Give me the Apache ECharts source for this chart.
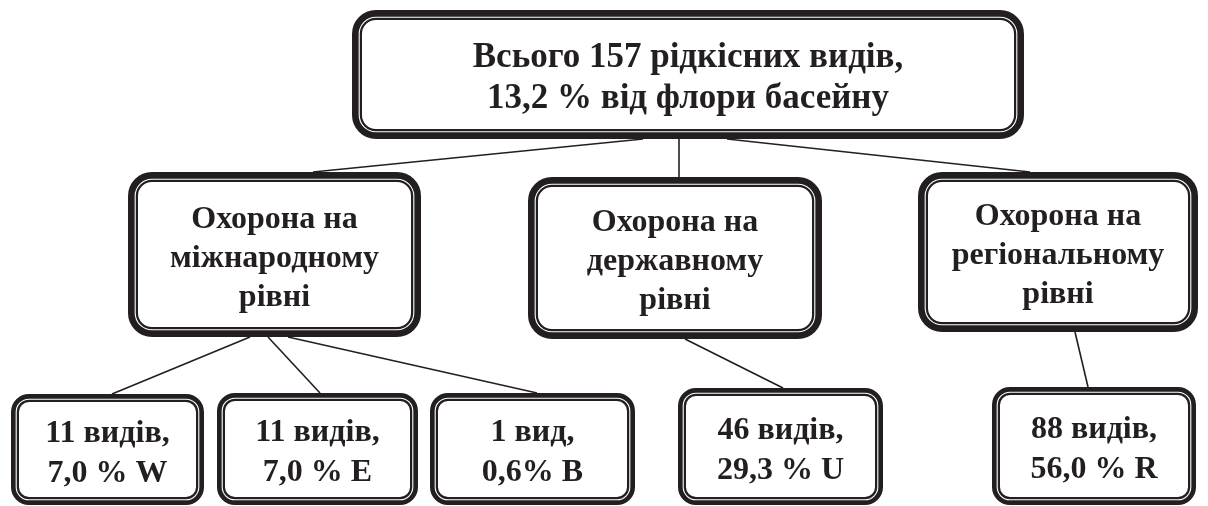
<!DOCTYPE html>
<html>
<head>
<meta charset="utf-8">
<script src="https://cdn.jsdelivr.net/npm/echarts@6/dist/echarts.min.js"></script>
<style>
html,body{margin:0;padding:0;background:#fff;}
#chart{width:1208px;height:506px;}
</style>
</head>
<body>
<div id="chart"></div>
<script>
// Node labels (tree diagram)
const nodeLabels = [
  'Всього 157 рідкісних видів,\n13,2 % від флори басейну',
  'Охорона на\nміжнародному\nрівні',
  'Охорона на\nдержавному\nрівні',
  'Охорона на\nрегіональному\nрівні',
  '11 видів,\n7,0 % W',
  '11 видів,\n7,0 % E',
  '1 вид,\n0,6% B',
  '46 видів,\n29,3 % U',
  '88 видів,\n56,0 % R'
];
// Tree level of each node
const nodeLevels = [0, 1, 1, 1, 2, 2, 2, 2, 2];
// Node box extents in diagram units [x0, y0, x1, y1]
const nodeBoxes = [
  [352, 10, 1024, 139],
  [128, 172, 421, 337],
  [528, 177, 822, 339],
  [918, 172, 1198, 332],
  [11, 394, 204, 505],
  [217, 393, 418, 505],
  [430, 393, 635, 505],
  [678, 388, 883, 505],
  [992, 387, 1196, 505]
];
// Edges: [parent, child, anchor x on parent bottom, anchor x on child top]
const edgeLinks = [
  [0, 1, 643, 313],
  [0, 2, 679, 679],
  [0, 3, 727, 1030],
  [1, 4, 250, 112],
  [1, 5, 268, 320],
  [1, 6, 288, 537],
  [2, 7, 685, 783],
  [3, 8, 1075, 1088]
];

const INK = '#231f20';
const chart = echarts.init(document.getElementById('chart'), null, {renderer: 'canvas'});

const boxData = nodeBoxes.map((b, i) => ({value: [b[0], b[1], b[2], b[3], nodeLevels[i]], label: nodeLabels[i]}));
const edgeData = edgeLinks.map(e => ({
  coords: [[e[2], nodeBoxes[e[0]][3]], [e[3], nodeBoxes[e[1]][1]]]
}));

const levelFont = [35, 32, 32];
const levelLine = [41, 39, 40];
const levelBand = [10, 10, 8];
const levelRadius = [24, 24, 18];

chart.setOption({
  animation: false,
  backgroundColor: '#ffffff',
  grid: {left: 0, right: 0, top: 0, bottom: 0, containLabel: false},
  xAxis: {type: 'value', min: 0, max: 1208, show: false},
  yAxis: {type: 'value', min: 0, max: 506, inverse: true, show: false},
  series: [
    {
      type: 'lines',
      coordinateSystem: 'cartesian2d',
      z: 1,
      silent: true,
      lineStyle: {color: INK, width: 1.6, opacity: 1, curveness: 0},
      data: edgeData
    },
    {
      type: 'custom',
      coordinateSystem: 'cartesian2d',
      z: 2,
      clip: false,
      silent: true,
      data: boxData,
      renderItem: function (params, api) {
        const p0 = api.coord([api.value(0), api.value(1)]);
        const p1 = api.coord([api.value(2), api.value(3)]);
        const lvl = api.value(4);
        const x = p0[0], y = p0[1], w = p1[0] - p0[0], h = p1[1] - p0[1];
        const label = boxData[params.dataIndex].label;
        const band = levelBand[lvl];
        const r = levelRadius[lvl];
        const half = band / 2;
        const lineOff = band - 2.8;
        return {
          type: 'group',
          children: [
            {
              type: 'rect',
              shape: {x: x + half, y: y + half, width: w - band, height: h - band, r: r - half},
              style: {fill: '#ffffff', stroke: INK, lineWidth: band}
            },
            {
              type: 'rect',
              shape: {x: x + lineOff, y: y + lineOff, width: w - 2 * lineOff, height: h - 2 * lineOff, r: r - lineOff},
              style: {fill: null, stroke: '#ffffff', lineWidth: 1.1}
            },
            {
              type: 'text',
              x: x + w / 2,
              y: y + h / 2 + 4,
              style: {
                text: label,
                fill: INK,
                font: 'bold ' + levelFont[lvl] + 'px "Liberation Serif", "Times New Roman", serif',
                align: 'center',
                verticalAlign: 'middle',
                lineHeight: levelLine[lvl]
              }
            }
          ]
        };
      }
    }
  ]
});
</script>
</body>
</html>
